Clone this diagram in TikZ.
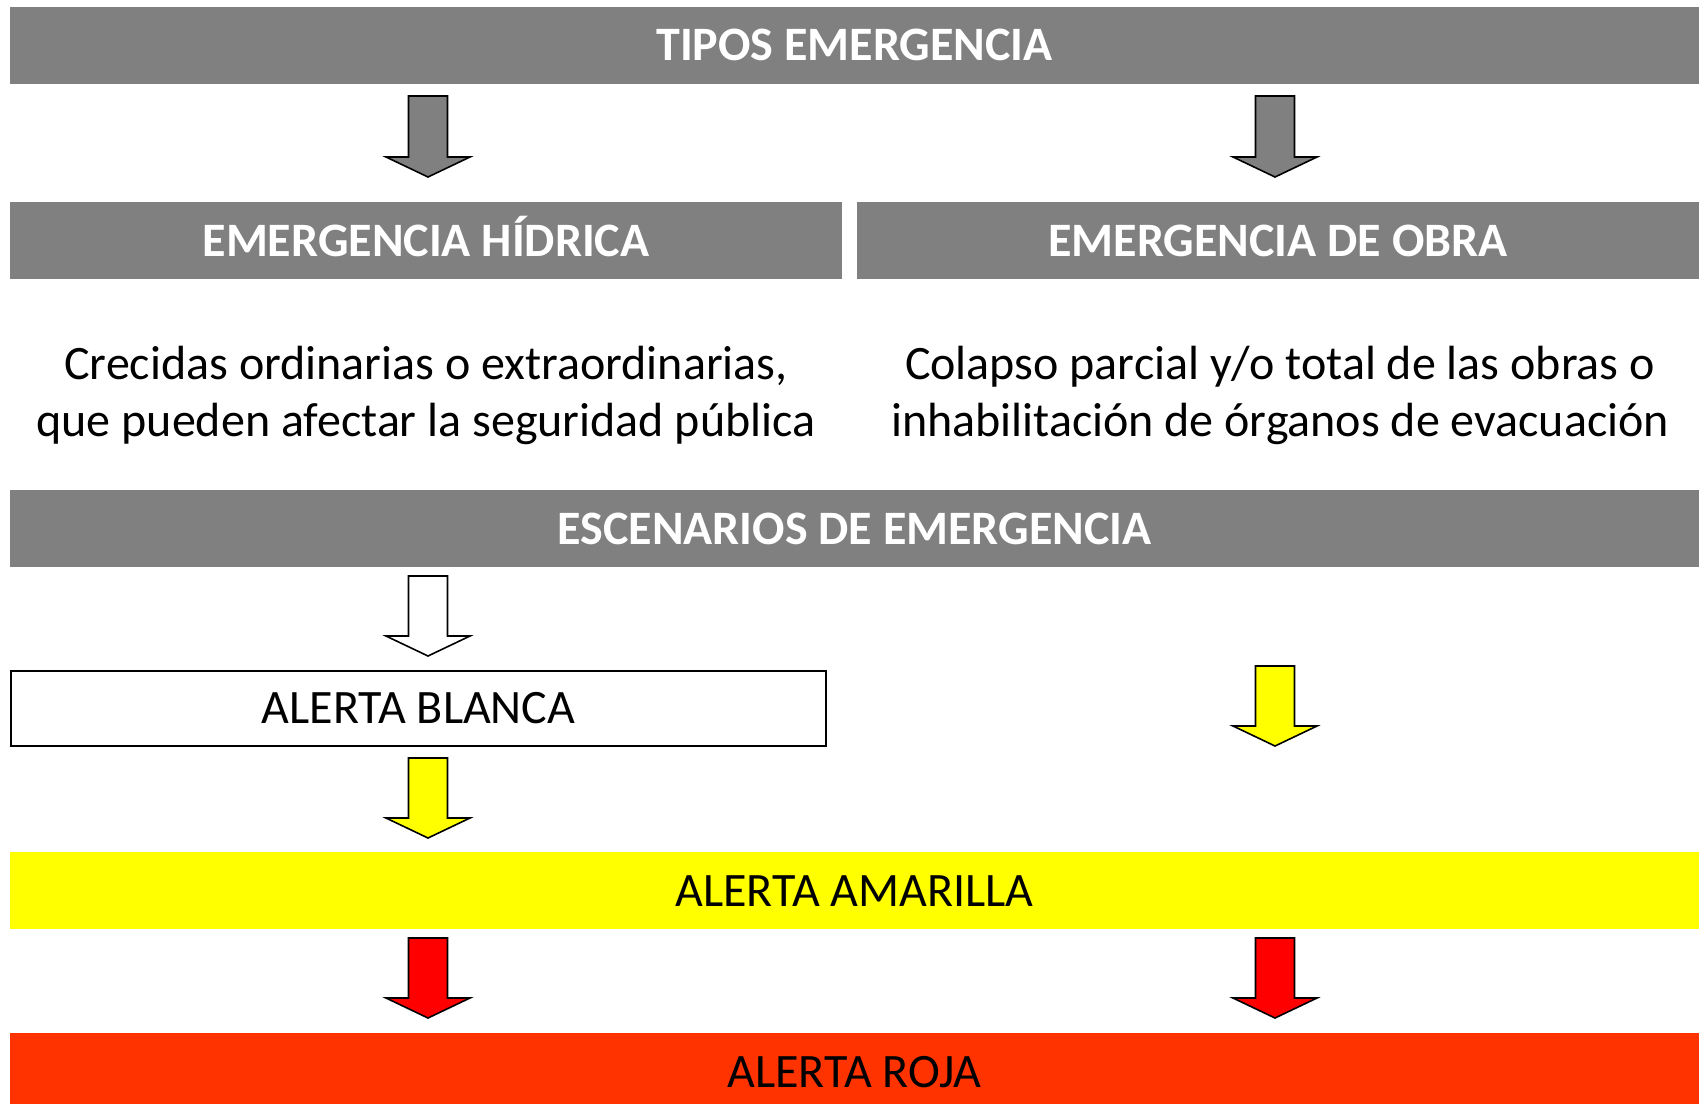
\documentclass[tikz,border=0pt]{standalone}
\usepackage{fontspec}
\setmainfont{Carlito}
\definecolor{barGray}{HTML}{808080}
\definecolor{barYellow}{HTML}{FFFF00}
\definecolor{barRed}{HTML}{FF3300}
\definecolor{arrRed}{HTML}{FF0000}
\newcommand\downarrowshape[4]{% x, ytop, ytip, fill
  \draw[blockarrow, fill=#4] (#1-19.5,#2) -- (#1+19.5,#2) -- (#1+19.5,#3-20) -- (#1+42,#3-20)
    -- (#1,#3) -- (#1-42,#3-20) -- (#1-19.5,#3-20) -- cycle;}
\begin{document}
\begin{tikzpicture}[x=1pt,y=-1pt,
  every node/.style={font=\fontsize{48}{58}\selectfont, inner sep=0pt, outer sep=0pt},
  bar/.style={minimum height=77, text height=31, text depth=0, anchor=center},
  graybar/.style={bar, fill=barGray, text=white, font=\fontsize{48}{58}\selectfont\bfseries},
  bodytext/.style={anchor=base, text=black},
  blockarrow/.style={draw=black, line width=1.6pt, line join=miter}]
\useasboundingbox (0,0) rectangle (1699,1103);
\fill[white] (0,0) rectangle (1699,1103);

\node[graybar, minimum width=1689] (tipos) at (854.5,45) {TIPOS EMERGENCIA};
\node[graybar, minimum width=832] (hidrica) at (426,240.5) {EMERGENCIA HÍDRICA};
\node[graybar, minimum width=842] (obra) at (1278,240.5) {EMERGENCIA DE OBRA};

\node[bodytext] (hid1) at (426,379) {Crecidas ordinarias o extraordinarias,};
\node[bodytext] (hid2) at (426,436) {que pueden afectar la seguridad pública};
\node[bodytext] (obr1) at (1280,379) {Colapso parcial y/o total de las obras o};
\node[bodytext] (obr2) at (1280,436) {inhabilitación de órganos de evacuación};

\node[graybar, minimum width=1689] (esc) at (854.5,528.5) {ESCENARIOS DE EMERGENCIA};

\node[bar, minimum width=815, minimum height=75, draw=black, line width=2pt, fill=white] (blanca) at (418.5,708) {ALERTA BLANCA};
\node[bar, minimum width=1689, fill=barYellow] (amarilla) at (854.5,890.5) {ALERTA AMARILLA};
\node[bar, minimum width=1689, fill=barRed] (roja) at (854.5,1071.5) {ALERTA ROJA};

% block arrows
\downarrowshape{428}{96}{177}{barGray}
\downarrowshape{1275}{96}{177}{barGray}
\downarrowshape{428}{576}{656}{white}
\downarrowshape{1275}{666}{746}{barYellow}
\downarrowshape{428}{758}{838}{barYellow}
\downarrowshape{428}{938}{1018}{arrRed}
\downarrowshape{1275}{938}{1018}{arrRed}
\end{tikzpicture}
\end{document}
